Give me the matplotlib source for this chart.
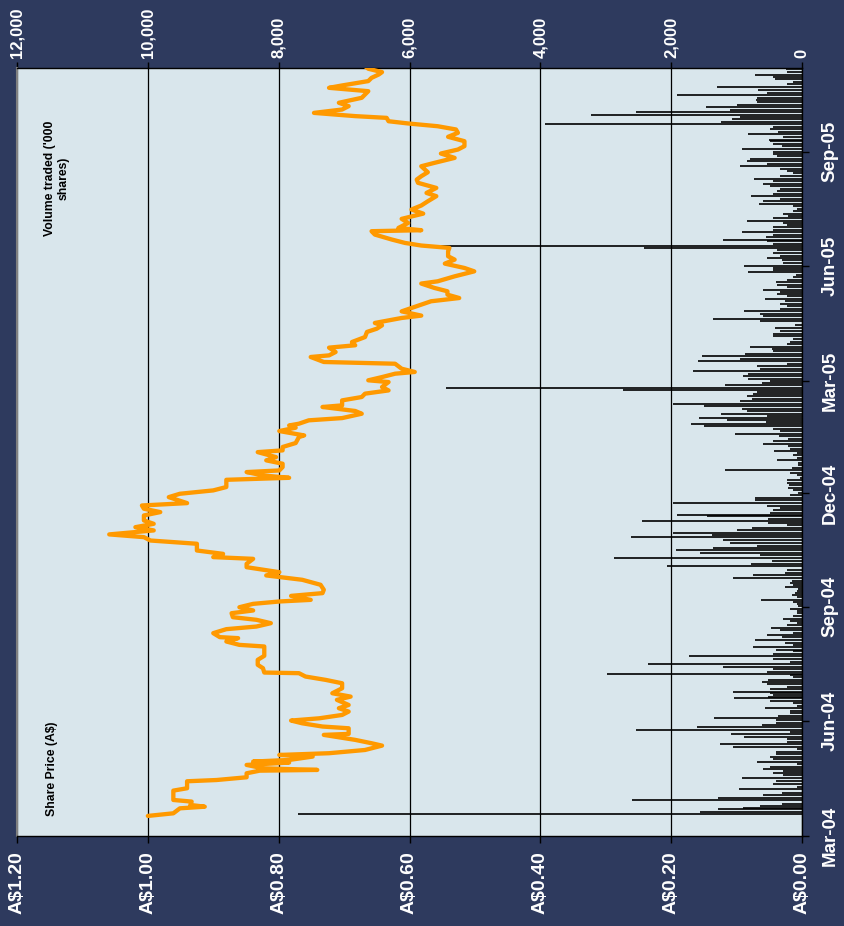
import matplotlib
matplotlib.use('Agg')
import matplotlib.pyplot as plt
import matplotlib.dates as mdates
import numpy as np

plt.rcParams['font.family'] = ['Liberation Sans', 'DejaVu Sans']

# ---------------- data (days counted from 2004-03-01) ----------------
price_day = [16.1, 18.2, 22.2, 23.5, 24.9, 27.6, 28.9, 36.4, 38.3, 43.9,
             44.9, 47.1, 50.3, 52.4, 53.0, 54.3, 57.0, 58.9, 59.7, 61.0,
             63.7, 65.0, 66.4, 69.0, 72.5, 74.4, 77.1, 81.1, 81.9, 86.4,
             87.8, 90.4, 92.6, 94.4, 97.1, 99.8, 102.5, 105.1, 109.2, 111.8,
             114.5, 118.5, 122.5, 125.2, 127.9, 130.6, 131.1, 134.6, 137.3, 141.3,
             144.5, 152.0, 153.3, 156.0, 158.7, 159.5, 162.7, 165.9, 168.0, 170.7,
             173.4, 175.5, 178.7, 180.9, 183.5, 186.2, 188.1, 189.4, 192.6, 194.8,
             197.5, 201.5, 204.1,
             205.5, 209.0, 211.6, 215.6, 218.3, 222.3, 223.7, 226.3, 229.0, 234.4,
             237.0, 239.7, 241.9, 245.1, 247.7, 250.4, 253.1, 257.1, 259.8, 262.5,
             265.1, 267.0, 271.8, 274.5, 277.2, 279.9, 285.7, 287.3, 289.2, 291.9,
             293.2, 295.9, 298.6, 301.3, 303.9, 307.9, 309.3, 312.0, 315.2, 320.0,
             321.3, 324.8, 327.5, 329.3, 330.7, 333.4, 335.2, 338.7, 340.9, 344.1,
             345.4, 349.4, 352.1, 354.8, 357.4, 360.1, 364.1, 365.5, 368.1, 370.8,
             372.2, 374.8, 378.8, 380.2, 384.2, 385.5, 388.2, 391.7, 393.6, 396.2,
             400.2, 404.3, 406.9, 409.6,
             411.5, 415.5, 417.4, 420.8, 424.9, 428.9, 431.5, 434.2, 436.9, 439.6,
             443.1, 444.9, 448.9, 452.9, 455.6, 459.1, 462.3, 465.0, 469.0, 471.7,
             473.6, 475.7, 478.4, 482.4, 485.1, 485.9, 487.7, 491.7, 495.0, 499.2,
             502.5, 505.7, 509.1, 513.2, 515.8, 519.8, 523.9, 526.5, 529.2, 532.4,
             537.2, 539.9, 543.9, 547.4, 550.6, 553.3, 557.3, 560.8, 564.0, 566.7,
             569.3, 571.5, 573.3, 576.0, 577.4, 580.0, 582.7, 585.4, 588.1, 592.1,
             594.8, 597.4, 600.1, 602.0, 605.5, 608.1, 610.8, 612.7, 615.4, 617.5]

price_aud = [1.000, 0.961, 0.951, 0.913, 0.935, 0.933, 0.961, 0.961, 0.940, 0.940,
             0.895, 0.849, 0.849, 0.829, 0.741, 0.824, 0.849, 0.784, 0.839, 0.784,
             0.748, 0.799, 0.723, 0.668, 0.642, 0.658, 0.683, 0.731, 0.693, 0.693,
             0.733, 0.764, 0.781, 0.738, 0.703, 0.693, 0.708, 0.693, 0.711, 0.690,
             0.718, 0.703, 0.703, 0.728, 0.759, 0.769, 0.822, 0.824, 0.832, 0.832,
             0.822, 0.822, 0.860, 0.880, 0.862, 0.890, 0.900, 0.880, 0.834, 0.812,
             0.834, 0.870, 0.872, 0.839, 0.860, 0.839, 0.799, 0.751, 0.781, 0.733,
             0.731, 0.736, 0.754,
             0.764, 0.819, 0.799, 0.849, 0.849, 0.839, 0.900, 0.885, 0.925, 0.925,
             0.996, 1.006, 1.059, 0.991, 1.019, 0.991, 1.006, 1.006, 0.981, 1.006,
             1.009, 0.940, 0.968, 0.951, 0.900, 0.880, 0.880, 0.784, 0.824, 0.849,
             0.799, 0.794, 0.794, 0.819, 0.804, 0.832, 0.794, 0.794, 0.774, 0.769,
             0.761, 0.799, 0.774, 0.784, 0.769, 0.754, 0.703, 0.673, 0.683, 0.733,
             0.703, 0.703, 0.673, 0.668, 0.632, 0.642, 0.632, 0.663, 0.642, 0.622,
             0.592, 0.612, 0.622, 0.731, 0.751, 0.723, 0.713, 0.723, 0.683, 0.688,
             0.668, 0.665, 0.650, 0.642,
             0.653, 0.612, 0.582, 0.612, 0.589, 0.567, 0.524, 0.542, 0.542, 0.562,
             0.582, 0.557, 0.531, 0.501, 0.516, 0.546, 0.531, 0.541, 0.541, 0.539,
             0.582, 0.607, 0.627, 0.653, 0.658, 0.582, 0.617, 0.602, 0.612, 0.579,
             0.597, 0.582, 0.572, 0.559, 0.574, 0.559, 0.587, 0.589, 0.582, 0.572,
             0.582, 0.562, 0.531, 0.552, 0.526, 0.516, 0.516, 0.541, 0.526, 0.529,
             0.557, 0.602, 0.632, 0.635, 0.683, 0.746, 0.703, 0.693, 0.708, 0.673,
             0.668, 0.663, 0.723, 0.703, 0.663, 0.658, 0.647, 0.642, 0.663, 0.668]

vol_day = [17.7, 19.5, 21.4, 22.7, 24.1, 25.7, 28.9, 30.2, 32.9, 34.2,
           37.5, 39.6, 41.7, 43.9, 46.3, 49.0, 50.8, 52.4, 54.0, 55.7,
           57.8, 59.7, 61.5, 63.7, 65.8, 67.7, 69.6, 71.7, 73.8, 75.4,
           77.6, 79.7, 81.9, 83.7, 85.1, 87.8, 89.1, 91.0, 93.1, 94.4,
           96.3, 98.5, 100.6, 102.5, 104.3, 106.5, 108.6, 110.5, 111.8, 113.2,
           114.5, 115.8, 117.7, 119.9, 122.0, 123.9, 125.2, 127.4, 129.2, 130.0,
           131.9, 133.8, 135.9, 137.8, 139.9, 141.8, 144.5, 146.1, 148.0, 149.3,
           151.2, 153.0, 155.2, 157.3, 159.5, 161.3, 163.2, 165.3, 167.2, 169.1,
           171.2, 172.8, 174.4, 176.6, 178.7, 180.1, 181.9, 184.1, 185.9, 187.8,
           189.4, 191.6, 193.4, 194.8, 196.6, 198.0, 200.1, 201.7, 203.3, 204.9,
           207.1, 209.0, 210.8, 213.0, 216.2, 218.3, 220.5, 222.9, 225.0, 226.9,
           229.0, 231.2, 233.0, 235.2, 237.6, 239.7, 241.6, 242.9, 245.1, 247.2,
           249.4, 251.0, 252.6, 254.4, 256.3, 257.1, 259.0, 261.1, 263.0, 264.9,
           267.0, 269.2, 271.3, 273.2, 275.0, 277.2, 279.3, 281.2, 283.1, 285.2,
           287.3, 289.2, 291.1, 293.2, 295.4, 297.2, 299.1, 301.3, 303.4, 305.3,
           307.1, 308.8, 310.6, 312.5, 314.6, 316.8, 318.7, 320.5, 322.7, 324.8,
           326.7, 328.6, 330.2, 332.0, 333.4, 335.2, 336.8, 338.7, 340.6, 342.5,
           344.6, 346.7, 348.9, 350.8, 352.6, 354.2, 356.1, 358.0, 359.6, 361.5,
           363.3, 364.9, 366.8, 368.7, 370.8, 373.0, 374.8, 376.7, 378.8, 381.0,
           382.9, 385.0, 386.9, 389.0, 390.9, 392.2, 394.4, 396.2, 398.9, 400.8,
           402.9, 405.1, 407.5, 409.6,
           412.8, 414.7, 416.8, 419.0, 420.9, 422.7, 424.9, 426.7, 428.9, 430.8,
           432.9, 434.8, 436.6, 438.2, 440.4, 442.3, 444.1, 446.3, 448.4, 450.3,
           452.2, 453.8, 455.6, 457.5, 459.6, 461.8, 463.7, 465.5, 467.7, 469.8,
           471.7, 473.6, 475.2, 477.0, 478.4, 480.2, 482.1, 484.3, 486.4, 488.3,
           490.1, 491.8, 493.6, 495.5, 497.1, 499.2, 501.1, 503.0, 505.1, 507.3,
           509.1, 511.0, 513.2, 515.3, 517.2, 519.0, 521.2, 523.3, 525.2, 527.1,
           529.2, 531.4, 533.2, 535.1, 537.2, 539.4, 541.3, 543.1, 545.3, 547.1,
           549.0, 551.2, 553.3, 555.4, 557.3, 558.6, 560.8, 562.7, 564.5, 566.7,
           568.5, 570.7, 572.6, 574.7, 576.8, 578.7, 580.6, 582.7, 584.6, 586.5,
           588.6, 590.7, 592.1, 594.0, 596.1, 598.2, 600.6, 602.8, 604.7, 606.8,
           608.9, 610.5, 612.7, 614.8, 616.2]

vol_k = [7700, 1560, 1280, 900, 640, 310, 2606, 1280, 590, 310,
         964, 80, 440, 390, 923, 285, 440, 285, 590, 490,
         80, 693, 440, 490, 390, 400, 80, 1060, 1255, 235,
         235, 887, 1090, 184, 2540, 1610, 617, 390, 390, 1346,
         362, 184, 184, 566, 82, 133, 490, 1040, 515, 440,
         490, 1050, 490, 235, 540, 607, 525, 133, 184, 2978,
         530, 440, 1204, 2351, 184, 440, 1724, 440, 133, 390,
         755, 133, 260, 719, 310, 540, 133, 337, 480, 235,
         82, 184, 285, 133, 82, 82, 184, 56, 82, 133,
         632, 82, 158, 107, 82, 56, 260, 133, 184, 158,
         1060, 745, 260, 235, 2070, 780, 464, 2876, 643, 1560,
         1928, 1357, 694, 1100, 1214, 2621, 1382, 1979, 1000, 770,
         235, 515, 2453, 515, 1459, 1907, 490, 440, 337, 540,
         1979, 719, 719, 184, 56, 133, 210, 194, 235, 224,
         30, 82, 184, 1178, 158, 56, 56, 377, 82, 133,
         82, 423, 184, 210, 592, 440, 210, 347, 1025, 337,
         440, 1494, 1698, 551, 1153, 1571, 540, 1244, 847, 923,
         1494, 1979, 949, 770, 847, 745, 694, 2734, 5440, 1178,
         617, 490, 821, 898, 821, 1673, 643, 694, 235, 1596,
         949, 1525, 872, 440, 464, 796, 235, 184, 133, 439,
         439, 337, 413, 107,
         643, 1357, 592, 643, 887, 337, 235, 337, 260, 566,
         235, 388, 337, 592, 235, 388, 398, 235, 133, 92,
         821, 440, 440, 887, 286, 311, 530, 337, 440, 388,
         2417, 5870, 440, 540, 1204, 551, 440, 923, 440, 440,
         235, 286, 847, 440, 210, 286, 133, 82, 133, 653,
         592, 337, 780, 440, 388, 337, 490, 602, 440, 734,
         337, 133, 235, 337, 949, 540, 847, 796, 388, 440,
         440, 923, 311, 440, 490, 500, 286, 821, 362, 490,
         440, 3932, 1239, 1076, 949, 3233, 2530, 1102, 1469, 1000,
         694, 704, 694, 1907, 540, 668, 1306, 235, 133, 413,
         440, 719, 235, 245, 133]

price_ticks = [0.0, 0.2, 0.4, 0.6, 0.8, 1.0, 1.2]
price_labels = ['A$0.00', 'A$0.20', 'A$0.40', 'A$0.60', 'A$0.80', 'A$1.00', 'A$1.20']
vol_ticks = [0, 2000, 4000, 6000, 8000, 10000, 12000]
vol_labels = ['0', '2,000', '4,000', '6,000', '8,000', '10,000', '12,000']
date_ticks = ['2004-03-01', '2004-06-01', '2004-09-01', '2004-12-01',
              '2005-03-01', '2005-06-01', '2005-09-01']
date_labels = ['Mar-04', 'Jun-04', 'Sep-04', 'Dec-04', 'Mar-05', 'Jun-05', 'Sep-05']

# ---------------- styling ----------------
navy = '#2E3A5E'
face = '#D9E6EC'
orange = '#FF9900'

base = mdates.date2num(np.datetime64('2004-03-01'))
end = mdates.date2num(np.datetime64('2005-11-07'))

fig = plt.figure(figsize=(8.45, 9.26), dpi=100)
fig.patch.set_facecolor(navy)
ax = fig.add_axes([17 / 845, 1 - 836 / 926, 785 / 845, 768 / 926])
ax2 = ax.twiny()

ax.set_facecolor(face)
ax.hlines(base + np.array(vol_day), 0, vol_k, color='black', lw=1.2, zorder=2)
ax.set_xlim(12000, 0)
ax.set_ylim(base, end)
ax.grid(axis='x', color='black', lw=0.9)
ax.set_axisbelow(True)

ax.set_xticks(vol_ticks)
ax.set_xticklabels(vol_labels)
ax.xaxis.tick_top()
ax.tick_params(axis='x', top=True, bottom=False, labeltop=True, labelbottom=False,
               labelrotation=90, labelsize=12, labelcolor='white',
               color='black', length=4.5, width=1, pad=3)

ax.set_yticks([mdates.date2num(np.datetime64(d)) for d in date_ticks])
ax.set_yticklabels(date_labels)
ax.yaxis.tick_right()
ax.tick_params(axis='y', right=True, left=False, labelright=True, labelleft=False,
               labelrotation=90, labelsize=13.5, labelcolor='white',
               color='black', length=5, width=1, pad=9)
for t in ax.get_yticklabels():
    t.set_va('center')
    t.set_fontweight('bold')
for t in ax.get_xticklabels():
    t.set_fontweight('bold')

for side, s in ax.spines.items():
    s.set_color('black')
    s.set_linewidth(1.0)
ax.spines['left'].set_color('#808080')
ax.spines['left'].set_linewidth(1.5)

ax2.plot(price_aud, base + np.array(price_day), color=orange, lw=3.1,
         solid_joinstyle='round', solid_capstyle='round', zorder=3)
ax2.set_xlim(1.2, 0)
ax2.set_ylim(base, end)
ax2.set_xticks(price_ticks)
ax2.set_xticklabels(price_labels)
ax2.xaxis.tick_bottom()
ax2.tick_params(axis='x', bottom=True, top=False, labelbottom=True, labeltop=False,
                labelrotation=90, labelsize=14, labelcolor='white',
                color='black', length=5, width=1, pad=6)
for t in ax2.get_xticklabels():
    t.set_fontweight('bold')
for s in ax2.spines.values():
    s.set_visible(False)

ax2.text(0.0446, 0.088, 'Share Price (A$)', transform=ax.transAxes, rotation=90,
         ha='center', va='center', fontsize=8.8, fontweight='bold', color='black')
ax2.text(0.051, 0.857, "Volume traded ('000\nshares)", transform=ax.transAxes,
         rotation=90, ha='center', va='center', multialignment='center',
         fontsize=8.8, fontweight='bold', color='black')

fig.savefig('out.png', dpi=100, facecolor=navy)
